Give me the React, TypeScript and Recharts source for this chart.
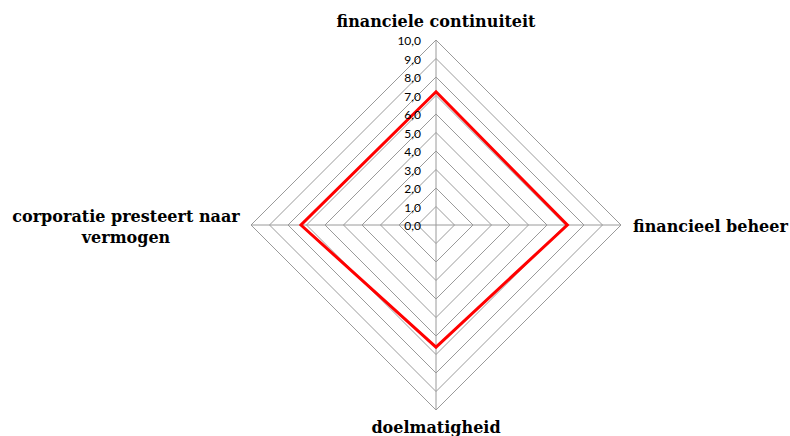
import React from 'react'
import { RadarChart, Radar, PolarGrid, PolarAngleAxis, PolarRadiusAxis } from 'recharts'

const categories = [
  'financiele continuiteit',
  'financieel beheer',
  'doelmatigheid',
  'corporatie presteert naar vermogen',
]
const scores = [7.2, 7.1, 6.6, 7.3]
const radiusTicks = [0, 1, 2, 3, 4, 5, 6, 7, 8, 9, 10]

const data = categories.map((name, i) => ({ name, score: scores[i] }))

const labelFont = { fontFamily: '"DejaVu Serif", serif', fontWeight: 'bold' as const, fontSize: 16, fill: '#000' }

// custom angle labels, placed around the diamond like the Excel original
const AngleTick = (props: any) => {
  const { x, y, payload, index } = props
  const v: string = payload.value
  if (index === 0) {
    return <text x={x} y={y - 5} textAnchor="middle" {...labelFont}>{v}</text>
  }
  if (index === 1) {
    return <text x={x + 4} y={y + 7} textAnchor="start" {...labelFont}>{v}</text>
  }
  if (index === 2) {
    return <text x={x} y={y + 15} textAnchor="middle" {...labelFont}>{v}</text>
  }
  // left label wraps onto two lines
  const words = v.split(' ')
  const line1 = words.slice(0, 3).join(' ')
  const line2 = words.slice(3).join(' ')
  return (
    <text x={x - 117} y={y - 3} textAnchor="middle" {...labelFont}>
      <tspan x={x - 117} dy={0}>{line1}</tspan>
      <tspan x={x - 117} dy={21}>{line2}</tspan>
    </text>
  )
}

const RadiusTick = (props: any) => {
  const { x, y, payload } = props
  return (
    <text x={x - 15} y={y + 5} textAnchor="end" fontFamily="Lato, sans-serif" fontSize={12} fill="#000">
      {payload.value.toFixed(1).replace('.', ',')}
    </text>
  )
}

export default function App() {
  return (
    <div style={{ position: 'absolute', left: 0, top: 0, width: 790, height: 436, background: '#fff' }}>
      <RadarChart width={790} height={436} data={data} cx={436} cy={225} outerRadius={185} margin={{ top: 0, right: 0, bottom: 0, left: 0 }}>
        <PolarGrid gridType="polygon" stroke="#9a9a9a" strokeWidth={1} />
        <PolarAngleAxis dataKey="name" tick={<AngleTick />} tickLine={false} axisLine={false} />
        <PolarRadiusAxis
          angle={90}
          domain={[0, 10]}
          ticks={radiusTicks}
          tickCount={11}
          tick={<RadiusTick />}
          axisLine={false}
          tickLine={false}
        />
        <Radar dataKey="score" stroke="#ff0000" strokeWidth={3} fill="none" fillOpacity={0} dot={false} isAnimationActive={false} />
      </RadarChart>
    </div>
  )
}
